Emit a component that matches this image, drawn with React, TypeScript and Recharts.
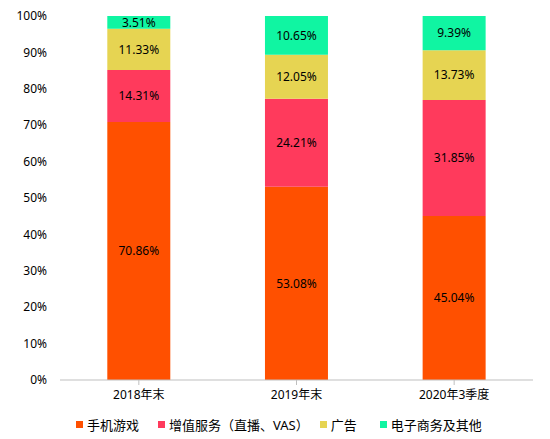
import React from "react";
import { BarChart, Bar, XAxis, YAxis, LabelList, Legend } from "recharts";

const categories = ["2018年末", "2019年末", "2020年3季度"];
const mobileGames = [70.86, 53.08, 45.04];
const vas = [14.31, 24.21, 31.85];
const ads = [11.33, 12.05, 13.73];
const ecommerce = [3.51, 10.65, 9.39];
const yTicks = [0, 10, 20, 30, 40, 50, 60, 70, 80, 90, 100];

const seriesNames = ["手机游戏", "增值服务（直播、VAS）", "广告", "电子商务及其他"];
const seriesColors = ["#FF5000", "#FF3A5C", "#E6D452", "#10F5A2"];
const seriesKeys = ["games", "vas", "ads", "ecom"];

const data = categories.map((c, i) => ({
  name: c,
  games: mobileGames[i],
  vas: vas[i],
  ads: ads[i],
  ecom: ecommerce[i],
}));

const FONT = "'Noto Sans', 'Noto Sans CJK SC', sans-serif";
const legendGaps = [19, 11, 23, 0];

const renderLegend = () => (
  <div
    style={{
      display: "flex",
      justifyContent: "flex-start",
      paddingLeft: 76,
      paddingTop: 1,
      fontFamily: FONT,
      fontSize: 13,
      color: "#000",
    }}
  >
    {seriesNames.map((n, i) => (
      <div key={n} style={{ display: "flex", alignItems: "center", marginRight: legendGaps[i] }}>
        <span
          style={{
            display: "inline-block",
            width: 7,
            height: 7,
            background: seriesColors[i],
            marginRight: 4,
          }}
        />
        <span>{n}</span>
      </div>
    ))}
  </div>
);

export default function App() {
  return (
    <div style={{ marginLeft: -8, marginTop: -8, width: 550, height: 439, background: "#fff" }}>
      <BarChart
        width={550}
        height={439}
        data={data}
        margin={{ top: 16, right: 17, bottom: 0, left: 0 }}
        barCategoryGap="30%"
      >
        <XAxis
          dataKey="name"
          axisLine={{ stroke: "#BFBFBF" }}
          tickLine={{ stroke: "#BFBFBF" }}
          tickSize={5}
          height={34}
          tick={{ fill: "#000", fontSize: 12, fontFamily: FONT }}
          tickMargin={5}
        />
        <YAxis
          domain={[0, 100]}
          ticks={yTicks}
          allowDataOverflow
          interval={0}
          axisLine={false}
          tickLine={false}
          width={60}
          tickMargin={7}
          tickFormatter={(v: number) => `${v}%`}
          tick={{ fill: "#000", fontSize: 12, fontFamily: FONT }}
        />
        <Legend verticalAlign="bottom" height={25} content={renderLegend} />
        {seriesKeys.map((k, i) => (
          <Bar
            key={k}
            dataKey={k}
            name={seriesNames[i]}
            stackId="a"
            fill={seriesColors[i]}
            isAnimationActive={false}
          >
            <LabelList
              dataKey={k}
              position="center"
              formatter={(v: number) => `${v.toFixed(2)}%`}
              style={{ fill: "#000", fontSize: 12, fontFamily: FONT }}
            />
          </Bar>
        ))}
      </BarChart>
    </div>
  );
}
